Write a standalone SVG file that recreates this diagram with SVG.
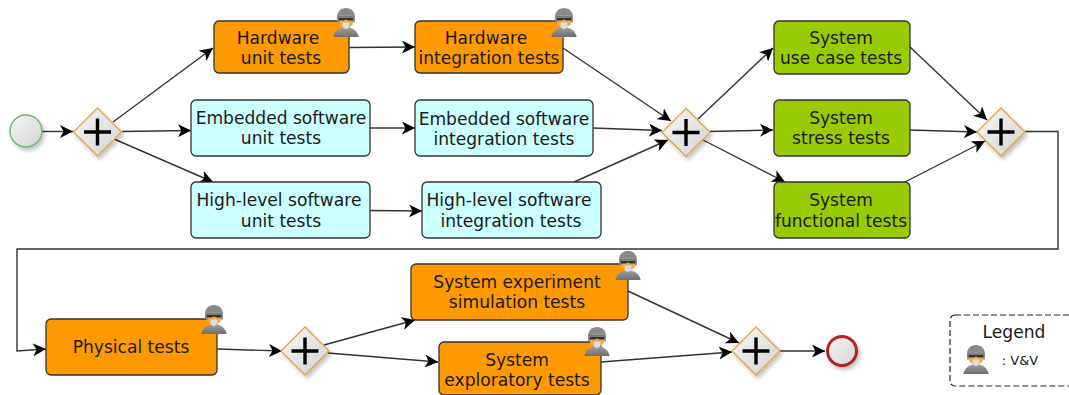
<svg xmlns="http://www.w3.org/2000/svg" width="1069" height="395" viewBox="0 0 1069 395">
<style>
text{font-family:"DejaVu Sans",sans-serif;font-size:17.100px;fill:#1a1a1a;text-anchor:middle}
.box{stroke:#333;stroke-width:1.3}
.or{fill:#ff9900}.cy{fill:#ccffff}.gr{fill:#99cc00}
.c{fill:none;stroke:#333;stroke-width:1.4;marker-end:url(#a)}
.gw{fill:url(#g);stroke:#e8a33d;stroke-width:1.3}
.pl{stroke:#000;stroke-width:3.4;fill:none}
</style>
<defs>
<marker id="a" markerUnits="userSpaceOnUse" markerWidth="14" markerHeight="13" refX="13" refY="6.500" orient="auto"><path d="M0 0L13 6.500L0 13L3.500 6.500Z" fill="#000"/></marker>
<linearGradient id="g" x1="0" y1="0" x2="1" y2="1"><stop offset="0" stop-color="#f7f7f7"/><stop offset="1" stop-color="#d2d2d2"/></linearGradient>
<filter id="s" x="-30%" y="-30%" width="170%" height="170%"><feGaussianBlur in="SourceAlpha" stdDeviation="2"/><feOffset dx="2" dy="2.5"/><feComponentTransfer><feFuncA type="linear" slope="0.25"/></feComponentTransfer><feMerge><feMergeNode/><feMergeNode in="SourceGraphic"/></feMerge></filter>
<linearGradient id="b" x1="0" y1="0" x2="0" y2="1"><stop offset="0" stop-color="#a0a0a0"/><stop offset="1" stop-color="#6e6e6e"/></linearGradient>
<symbol id="p" viewBox="0 0 28 32" overflow="visible">
<path d="M1 31C2 25 7 21 14 21S26 25 27 31Z" fill="url(#b)"/>
<path d="M7 11H21V18L14 23L7 18Z" fill="#f0a848"/>
<path d="M10.500 16H17.500V21L14 23L10.500 21Z" fill="#ddd"/>
<path d="M5 16C3 4 9 1 14 1S25 4 23 16L21 16V9H7V16Z" fill="#8a8a8a"/>
<path d="M6 9H22V11H6Z" fill="#777"/>
<path d="M6.500 11H21.500V14H16.500L14 13L11.500 14H6.500Z" fill="#333"/>
</symbol>
<g id="gw"><path class="gw" d="M0-24L24 0L0 24L-24 0Z" filter="url(#s)"/><path class="pl" d="M-13.500 0H13.500M0-13.500V13.500"/></g>
</defs>
<g id="connectors">
<path class="c" d="M42 131.500H73"/>
<path class="c" d="M113 122L213 48"/>
<path class="c" d="M122 131.500L191 130.500"/>
<path class="c" d="M114 139L213 182"/>
<path class="c" d="M349 47.500L415 47"/>
<path class="c" d="M370 128H415"/>
<path class="c" d="M370 210.500L422 211"/>
<path class="c" d="M563 48L671 121"/>
<path class="c" d="M593 128L662 130.500"/>
<path class="c" d="M574 182L668 140"/>
<path class="c" d="M698 119L773 48"/>
<path class="c" d="M710 131.500L773 130"/>
<path class="c" d="M703 140L785 182"/>
<path class="c" d="M910 47L987 120"/>
<path class="c" d="M910 130L977 132"/>
<path class="c" d="M905 182L985 141"/>
<path class="c" d="M1025 131.500H1058V249H17V351L46 349"/>
<path class="c" d="M217 349L282 351"/>
<path class="c" d="M324 345L415 320"/>
<path class="c" d="M328 353L438 362"/>
<path class="c" d="M628 291L739 343"/>
<path class="c" d="M601 362L732 352"/>
<path class="c" d="M780 351H825"/>
</g>
<g id="start"><circle cx="26" cy="131" r="16" fill="url(#g)" stroke="#66bb66" stroke-width="1.400" filter="url(#s)"/></g>
<g id="gw1"><use href="#gw" x="97.500" y="132"/></g>
<g id="n1"><rect class="box or" x="214" y="21" width="135" height="52" rx="5"/><text x="278" y="44">Hardware</text><text x="281" y="64">unit tests</text><use href="#p" x="332" y="7" width="28" height="31"/></g>
<g id="n2"><rect class="box cy" x="191" y="100" width="179" height="56" rx="5"/><text x="281" y="124">Embedded software</text><text x="281" y="144">unit tests</text></g>
<g id="n3"><rect class="box cy" x="191" y="182" width="179" height="56" rx="5"/><text x="279" y="206">High-level software</text><text x="281" y="227">unit tests</text></g>
<g id="n4"><rect class="box or" x="415" y="21" width="148" height="52" rx="5"/><text x="486" y="44">Hardware</text><text x="489" y="64">integration tests</text><use href="#p" x="550" y="7" width="28" height="31"/></g>
<g id="n5"><rect class="box cy" x="415" y="100" width="178" height="56" rx="5"/><text x="504" y="125">Embedded software</text><text x="504" y="145">integration tests</text></g>
<g id="n6"><rect class="box cy" x="422" y="182" width="179" height="56" rx="5"/><text x="509" y="206">High-level software</text><text x="511" y="227">integration tests</text></g>
<g id="gw2"><use href="#gw" x="686" y="132.500"/></g>
<g id="n7"><rect class="box gr" x="774" y="21" width="136" height="53" rx="5"/><text x="841" y="44">System</text><text x="841" y="64">use case tests</text></g>
<g id="n8"><rect class="box gr" x="774" y="100" width="136" height="56" rx="5"/><text x="841" y="124">System</text><text x="841" y="144">stress tests</text></g>
<g id="n9"><rect class="box gr" x="774" y="182" width="136" height="56" rx="5"/><text x="841" y="206">System</text><text x="841" y="227">functional tests</text></g>
<g id="gw3"><use href="#gw" x="1001" y="132"/></g>
<g id="n10"><rect class="box or" x="46" y="319" width="171" height="56" rx="5"/><text x="131" y="353">Physical tests</text><use href="#p" x="200" y="304" width="28" height="31"/></g>
<g id="gw4"><use href="#gw" x="305" y="351"/></g>
<g id="n11"><rect class="box or" x="411" y="264" width="217" height="56" rx="5"/><text x="517" y="288">System experiment</text><text x="517" y="308">simulation tests</text><use href="#p" x="614" y="250" width="28" height="31"/></g>
<g id="n12"><rect class="box or" x="439" y="342" width="162" height="53" rx="5"/><text x="517" y="366">System</text><text x="517" y="386">exploratory tests</text><use href="#p" x="583" y="326" width="28" height="31"/></g>
<g id="gw5"><use href="#gw" x="756" y="351"/></g>
<g id="end"><circle cx="842" cy="351" r="14.500" fill="url(#g)" stroke="#b22222" stroke-width="3" filter="url(#s)"/></g>
<g id="legend"><rect x="950" y="315" width="130" height="71" rx="5" fill="none" stroke="#222" stroke-width="1.200" stroke-dasharray="6 3"/><text x="1014" y="338">Legend</text><text x="1020" y="365" style="font-size:13px">: V&amp;V</text><use href="#p" x="962" y="344" width="28" height="31"/></g>
</svg>
